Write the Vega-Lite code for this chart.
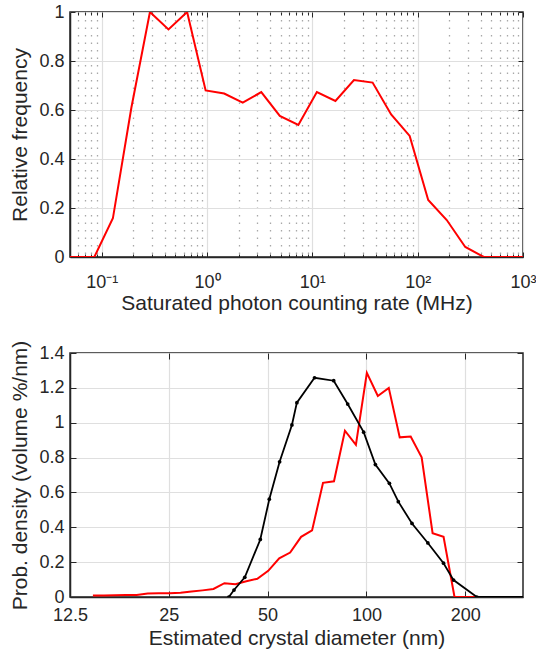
{
  "$schema": "https://vega.github.io/schema/vega-lite/v6.json",
  "padding": {"left": 9, "top": 2, "right": 5, "bottom": 5},
  "spacing": 96,
  "bounds": "flush",
  "datasets": {
    "top": [
      {"rate": 0.0379, "freq": 0},
      {"rate": 0.0568, "freq": 0},
      {"rate": 0.0851, "freq": 0},
      {"rate": 0.1277, "freq": 0.158},
      {"rate": 0.1914, "freq": 0.61},
      {"rate": 0.2871, "freq": 1.0},
      {"rate": 0.4305, "freq": 0.929},
      {"rate": 0.647, "freq": 1.0},
      {"rate": 0.97, "freq": 0.68},
      {"rate": 1.455, "freq": 0.667},
      {"rate": 2.183, "freq": 0.63},
      {"rate": 3.273, "freq": 0.673},
      {"rate": 4.909, "freq": 0.576},
      {"rate": 7.362, "freq": 0.539},
      {"rate": 11.04, "freq": 0.673},
      {"rate": 16.56, "freq": 0.637},
      {"rate": 24.83, "freq": 0.722},
      {"rate": 37.33, "freq": 0.712},
      {"rate": 55.98, "freq": 0.582},
      {"rate": 83.95, "freq": 0.494},
      {"rate": 125.9, "freq": 0.233},
      {"rate": 188.8, "freq": 0.151},
      {"rate": 283.1, "freq": 0.041},
      {"rate": 424.6, "freq": 0},
      {"rate": 636.8, "freq": 0},
      {"rate": 955, "freq": 0},
      {"rate": 1432, "freq": 0}
    ],
    "red": [
      {"d": 14.68, "p": 0.008},
      {"d": 15.85, "p": 0.009},
      {"d": 17.12, "p": 0.01},
      {"d": 18.49, "p": 0.011},
      {"d": 19.96, "p": 0.012},
      {"d": 21.56, "p": 0.02},
      {"d": 23.28, "p": 0.021},
      {"d": 25.14, "p": 0.021},
      {"d": 27.15, "p": 0.024},
      {"d": 29.32, "p": 0.031},
      {"d": 31.67, "p": 0.038},
      {"d": 34.2, "p": 0.046},
      {"d": 36.93, "p": 0.079},
      {"d": 39.88, "p": 0.073},
      {"d": 43.07, "p": 0.09},
      {"d": 46.51, "p": 0.105},
      {"d": 50.22, "p": 0.15},
      {"d": 54.24, "p": 0.222},
      {"d": 58.57, "p": 0.255},
      {"d": 63.25, "p": 0.345},
      {"d": 68.31, "p": 0.382},
      {"d": 73.76, "p": 0.655},
      {"d": 79.66, "p": 0.664},
      {"d": 86.02, "p": 0.954},
      {"d": 92.9, "p": 0.873},
      {"d": 100.32, "p": 1.286},
      {"d": 108.34, "p": 1.153},
      {"d": 116.99, "p": 1.2},
      {"d": 126.34, "p": 0.916},
      {"d": 136.44, "p": 0.921},
      {"d": 147.34, "p": 0.801},
      {"d": 159.11, "p": 0.366},
      {"d": 171.82, "p": 0.346},
      {"d": 185.55, "p": 0},
      {"d": 200.38, "p": 0},
      {"d": 216.39, "p": 0}
    ],
    "black": [
      {"d": 38.1, "p": 0},
      {"d": 39.5, "p": 0.04},
      {"d": 42.6, "p": 0.113},
      {"d": 47.5, "p": 0.33},
      {"d": 50.6, "p": 0.561},
      {"d": 54.4, "p": 0.776},
      {"d": 59.3, "p": 0.987},
      {"d": 61.4, "p": 1.115},
      {"d": 69.5, "p": 1.258},
      {"d": 79.5, "p": 1.241},
      {"d": 87.7, "p": 1.107},
      {"d": 98.1, "p": 0.946},
      {"d": 106.5, "p": 0.76},
      {"d": 117.5, "p": 0.652},
      {"d": 125.1, "p": 0.547},
      {"d": 137.7, "p": 0.422},
      {"d": 153.9, "p": 0.31},
      {"d": 171.8, "p": 0.194},
      {"d": 184.3, "p": 0.097},
      {"d": 217.0, "p": 0},
      {"d": 300, "p": 0}
    ]
  },
  "vconcat": [
    {
      "width": 453,
      "height": 245,
      "data": {"name": "top"},
      "resolve": {"axis": {"x": "independent", "y": "independent"}},
      "layer": [
        {
          "mark": {"type": "line", "color": "#ff0000", "strokeWidth": 2, "clip": true},
          "encoding": {
            "x": {
              "field": "rate", "type": "quantitative",
              "scale": {"type": "log", "domain": [0.05, 1000], "nice": false},
              "axis": {
                "orient": "bottom",
                "title": "Saturated photon counting rate (MHz)",
                "values": [0.06, 0.07, 0.08, 0.09, 0.1, 0.2, 0.3, 0.4, 0.5, 0.6, 0.7, 0.8, 0.9, 1, 2, 3, 4, 5, 6, 7, 8, 9, 10, 20, 30, 40, 50, 60, 70, 80, 90, 100, 200, 300, 400, 500, 600, 700, 800, 900, 1000],
                "labelExpr": "datum.value == 0.1 ? '10⁻¹' : datum.value == 1 ? '10⁰' : datum.value == 10 ? '10¹' : datum.value == 100 ? '10²' : datum.value == 1000 ? '10³' : ''",
                "gridDash": {"condition": {"test": "abs(log(datum.value)/LN10 - round(log(datum.value)/LN10)) < 0.001", "value": []}, "value": [1.5, 6]},
                "gridColor": {"condition": {"test": "abs(log(datum.value)/LN10 - round(log(datum.value)/LN10)) < 0.001", "value": "#dfdfdf"}, "value": "#a8a8a8"},
                "gridWidth": {"condition": {"test": "abs(log(datum.value)/LN10 - round(log(datum.value)/LN10)) < 0.001", "value": 1.2}, "value": 1.3},
                "tickSize": {"condition": {"test": "abs(log(datum.value)/LN10 - round(log(datum.value)/LN10)) < 0.001", "value": -5}, "value": -3},
                "labelPadding": {"condition": {"test": "abs(log(datum.value)/LN10 - round(log(datum.value)/LN10)) < 0.001", "value": 21}, "value": 19},
                "titleBaseline": "alphabetic",
                "titleY": 52
              }
            },
            "y": {
              "field": "freq", "type": "quantitative",
              "scale": {"domain": [0, 1], "nice": false},
              "axis": {"orient": "left", "title": "Relative frequency", "values": [0, 0.2, 0.4, 0.6, 0.8, 1], "format": "~g", "tickSize": -5, "labelPadding": 11, "titlePadding": 8}
            }
          }
        },
        {
          "mark": {"type": "line", "strokeOpacity": 0, "clip": true},
          "encoding": {
            "x": {
              "field": "rate", "type": "quantitative",
              "axis": {
                "orient": "top", "title": null, "labels": false, "grid": false, "domain": false,
                "values": [0.06, 0.07, 0.08, 0.09, 0.1, 0.2, 0.3, 0.4, 0.5, 0.6, 0.7, 0.8, 0.9, 1, 2, 3, 4, 5, 6, 7, 8, 9, 10, 20, 30, 40, 50, 60, 70, 80, 90, 100, 200, 300, 400, 500, 600, 700, 800, 900, 1000],
                "tickSize": {"condition": {"test": "abs(log(datum.value)/LN10 - round(log(datum.value)/LN10)) < 0.001", "value": -5}, "value": -3}
              }
            },
            "y": {
              "field": "freq", "type": "quantitative",
              "axis": {"orient": "right", "title": null, "labels": false, "grid": false, "domain": false, "values": [0, 0.2, 0.4, 0.6, 0.8, 1], "tickSize": -5}
            }
          }
        }
      ]
    },
    {
      "width": 453,
      "height": 244,
      "resolve": {"axis": {"x": "independent", "y": "independent"}},
      "layer": [
        {
          "data": {"name": "red"},
          "mark": {"type": "line", "color": "#ff0000", "strokeWidth": 2, "clip": true},
          "encoding": {
            "x": {
              "field": "d", "type": "quantitative",
              "scale": {"type": "log", "base": 2, "domain": [12.5, 300], "nice": false},
              "axis": {"orient": "bottom", "title": "Estimated crystal diameter (nm)", "values": [12.5, 25, 50, 100, 200], "labelExpr": "datum.value + ''", "tickSize": -6, "labelPadding": 15, "titleBaseline": "alphabetic", "titleY": 47}
            },
            "y": {
              "field": "p", "type": "quantitative",
              "scale": {"domain": [0, 1.4], "nice": false},
              "axis": {"orient": "left", "title": "Prob. density (volume %/nm)", "values": [0, 0.2, 0.4, 0.6, 0.8, 1, 1.2, 1.4], "format": "~g", "tickSize": -6, "labelPadding": 12, "titlePadding": 8}
            }
          }
        },
        {
          "data": {"name": "black"},
          "mark": {"type": "line", "color": "#000000", "strokeWidth": 1.8, "clip": true},
          "encoding": {
            "x": {"field": "d", "type": "quantitative", "axis": null},
            "y": {"field": "p", "type": "quantitative", "axis": null}
          }
        },
        {
          "data": {"name": "black"},
          "transform": [{"filter": "datum.d < 250"}],
          "mark": {"type": "point", "filled": true, "color": "#000000", "size": 14, "opacity": 1, "clip": true},
          "encoding": {
            "x": {"field": "d", "type": "quantitative", "axis": null},
            "y": {"field": "p", "type": "quantitative", "axis": null}
          }
        },
        {
          "data": {"name": "black"},
          "mark": {"type": "line", "strokeOpacity": 0, "clip": true},
          "encoding": {
            "x": {"field": "d", "type": "quantitative", "axis": {"orient": "top", "title": null, "labels": false, "grid": false, "domain": false, "values": [12.5, 25, 50, 100, 200], "tickSize": -6}},
            "y": {"field": "p", "type": "quantitative", "axis": {"orient": "right", "title": null, "labels": false, "grid": false, "domain": false, "values": [0, 0.2, 0.4, 0.6, 0.8, 1, 1.2, 1.4], "tickSize": -6}}
          }
        }
      ]
    }
  ],
  "config": {
    "font": "Liberation Sans",
    "view": {"stroke": "#262626", "strokeWidth": 1.5},
    "axis": {
      "labelFont": "Liberation Sans", "labelFontSize": 18, "labelColor": "#262626",
      "titleFont": "Liberation Sans", "titleFontSize": 21, "titleFontWeight": "normal", "titleColor": "#262626",
      "domainColor": "#262626", "domainWidth": 1.5,
      "tickColor": "#262626", "tickWidth": 1,
      "gridColor": "#dfdfdf", "gridWidth": 1.2,
      "labelFlush": false, "labelOverlap": false
    }
  }
}
